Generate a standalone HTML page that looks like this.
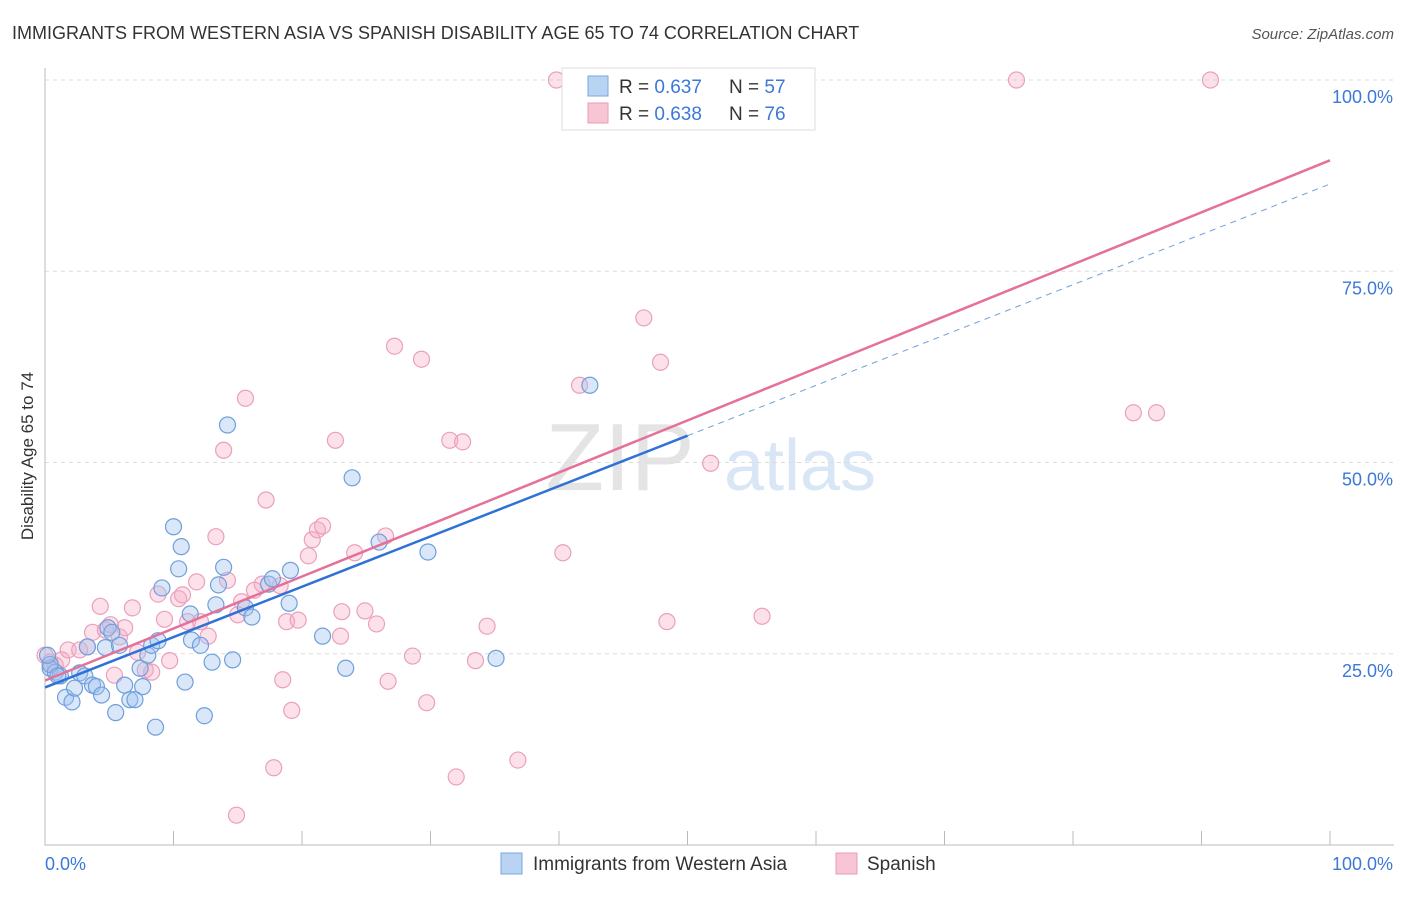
<!DOCTYPE html>
<html><head><meta charset="utf-8"><style>
body{margin:0;background:#fff;font-family:"Liberation Sans",sans-serif;}
svg text{font-family:"Liberation Sans",sans-serif;}
</style></head><body>
<svg id="c" width="1406" height="892">
<text x="12" y="39" font-size="18" fill="#333">IMMIGRANTS FROM WESTERN ASIA VS SPANISH DISABILITY AGE 65 TO 74 CORRELATION CHART</text>
<text x="1394" y="39" font-size="15" fill="#555" font-style="italic" text-anchor="end">Source: ZipAtlas.com</text>
<text x="620" y="490" font-size="96" fill="#e4e4e4" font-family="Liberation Serif" text-anchor="middle">ZIP</text>
<text x="800" y="490" font-size="72" fill="#d8e6f5" text-anchor="middle">atlas</text>
<g id="grid"></g><g id="axes"></g><g id="pts"></g><g id="lines"></g>
<text transform="translate(33,456) rotate(-90)" font-size="17" fill="#333" text-anchor="middle">Disability Age 65 to 74</text>
<g>
<rect x="562" y="68" width="253" height="62" fill="#fff" stroke="#ddd"/>
<rect x="588" y="76" width="20" height="20" fill="#b9d3f3" stroke="#7aa7e0"/>
<text x="619" y="93" font-size="19" fill="#333">R = <tspan fill="#3b78d8">0.637</tspan></text>
<text x="729" y="93" font-size="19" fill="#333">N = <tspan fill="#3b78d8">57</tspan></text>
<rect x="588" y="103" width="20" height="20" fill="#f8c5d5" stroke="#e99ab5"/>
<text x="619" y="120" font-size="19" fill="#333">R = <tspan fill="#3b78d8">0.638</tspan></text>
<text x="729" y="120" font-size="19" fill="#333">N = <tspan fill="#3b78d8">76</tspan></text>
</g>
<g>
<rect x="501" y="853" width="21" height="21" fill="#b9d3f3" stroke="#7aa7e0"/>
<text x="533" y="870" font-size="19" fill="#333">Immigrants from Western Asia</text>
<rect x="836" y="853" width="21" height="21" fill="#f8c5d5" stroke="#e99ab5"/>
<text x="867" y="870" font-size="19" fill="#333">Spanish</text>
</g>
</svg>
<script>
const yTicks=[25,50,75,100];
const yTickLabels=["25.0%","50.0%","75.0%","100.0%"];
const blueX=[0.4,0.8,1.2,1.6,2.1,2.3,2.7,3.1,3.7,4.0,4.4,4.7,4.9,5.2,5.5,5.8,6.2,6.6,7.0,7.4,7.6,8.0,8.3,8.6,8.8,9.1,10.0,10.4,10.6,10.9,11.3,11.4,12.1,12.4,13.0,13.3,13.5,13.9,14.2,14.6,15.6,16.1,17.4,17.7,19.0,19.1,21.6,23.4,23.9,26.0,29.8,35.1,42.4,0.4,1.0,3.3,0.2];
const blueY=[23.1,22.6,22.1,19.3,18.7,20.5,22.5,22.1,20.9,20.7,19.6,25.8,28.4,27.8,17.3,26.1,20.9,19.0,19.0,23.1,20.7,24.8,26.1,15.4,26.7,33.6,41.6,36.1,39.0,21.3,30.2,26.8,26.1,16.9,23.9,31.4,34.0,36.3,54.9,24.2,31.0,29.8,34.1,34.8,31.6,35.9,27.3,23.1,48.0,39.6,38.3,24.4,60.1,23.6,22.1,25.9,24.8];
const pinkX=[0,0.4,0.8,1.3,1.8,2.7,3.3,3.7,4.3,4.7,5.1,5.4,5.8,6.2,6.8,7.2,7.8,8.3,8.8,9.3,9.7,10.4,10.7,11.1,11.8,12.1,12.7,13.3,13.9,14.2,15.3,15.6,16.3,16.9,17.2,18.3,18.5,18.8,19.2,19.7,20.5,20.8,21.2,21.6,22.6,23.0,23.1,24.1,24.9,25.8,26.5,26.7,27.2,28.6,29.3,29.7,31.5,32.0,32.5,33.5,34.4,36.8,39.8,40.3,41.6,46.6,47.9,48.4,51.8,54.5,55.8,75.6,84.7,86.5,90.7,14.9,17.8,15.0];
const pinkY=[24.8,23.9,23.5,24.2,25.5,25.5,25.9,27.8,31.2,28.1,28.8,22.2,27.2,28.4,31.0,25.2,22.9,22.6,32.8,29.5,24.1,32.2,32.7,29.2,34.4,29.2,27.3,40.3,51.6,34.6,31.8,58.4,33.3,34.1,45.1,33.9,21.6,29.2,17.6,29.4,37.8,39.9,41.2,41.7,52.9,27.3,30.5,38.2,30.6,28.9,40.4,21.4,65.2,24.7,63.5,18.6,52.9,8.9,52.7,24.1,28.6,11.1,100,38.2,60.1,68.9,63.1,29.2,49.9,100,29.9,100,56.5,56.5,100,3.9,10.1,30.1];
const blueFit=[20.6,86.4];
const pinkFit=[21.5,89.5];
const X=v=>45+v*12.85, Y=v=>845-v*7.65;
const NS="http://www.w3.org/2000/svg";
function mk(p,t,a){const e=document.createElementNS(NS,t);for(const k in a)e.setAttribute(k,a[k]);p.appendChild(e);return e;}
const grid=document.getElementById('grid'),axes=document.getElementById('axes'),pts=document.getElementById('pts'),lines=document.getElementById('lines');
yTicks.forEach((t,i)=>{
 const g=mk(grid,'line',{x1:45,x2:1394,y1:Y(t),y2:Y(t),stroke:'#ddd','stroke-dasharray':'4,4'});
 
 
 const l=mk(axes,'text',{x:1393,y:Y(t)+23,'font-size':18,fill:'#3b78d8','text-anchor':'end'});
 l.textContent=yTickLabels[i];
 
 
});
const ax=mk(axes,'path',{d:`M45,68V845H1394`,stroke:'#bbb',fill:'none'});


for(let i=0;i<=10;i++){const t=mk(axes,'line',{x1:X(i*10),x2:X(i*10),y1:831,y2:845,stroke:'#bbb'});
 
 }
const x0=mk(axes,'text',{x:45,y:870,'font-size':18,fill:'#3b78d8'});x0.textContent='0.0%';


const x1=mk(axes,'text',{x:1393,y:870,'font-size':18,fill:'#3b78d8','text-anchor':'end'});x1.textContent='100.0%';


pinkX.forEach((v,i)=>{const c=mk(pts,'circle',{cx:X(v),cy:Y(pinkY[i]),r:8,fill:'rgba(245,170,195,0.35)',stroke:'#eaa0bb','stroke-width':1.2});
 
 });
blueX.forEach((v,i)=>{const c=mk(pts,'circle',{cx:X(v),cy:Y(blueY[i]),r:8,fill:'rgba(160,196,240,0.4)',stroke:'#6f9fdc','stroke-width':1.2});
 
 });
const by=x=>blueFit[0]+(blueFit[1]-blueFit[0])*x/100, py=x=>pinkFit[0]+(pinkFit[1]-pinkFit[0])*x/100;
const bd=mk(lines,'line',{x1:X(50),y1:Y(by(50)),x2:X(100),y2:Y(by(100)),stroke:'#6f9fdc','stroke-width':1,'stroke-dasharray':'6,5'});


const pl=mk(lines,'line',{x1:X(0),y1:Y(py(0)),x2:X(100),y2:Y(py(100)),stroke:'#e5709a','stroke-width':2.5});


const bl=mk(lines,'line',{x1:X(0),y1:Y(by(0)),x2:X(50),y2:Y(by(50)),stroke:'#2f72d6','stroke-width':2.5});


</script>
</body></html>
